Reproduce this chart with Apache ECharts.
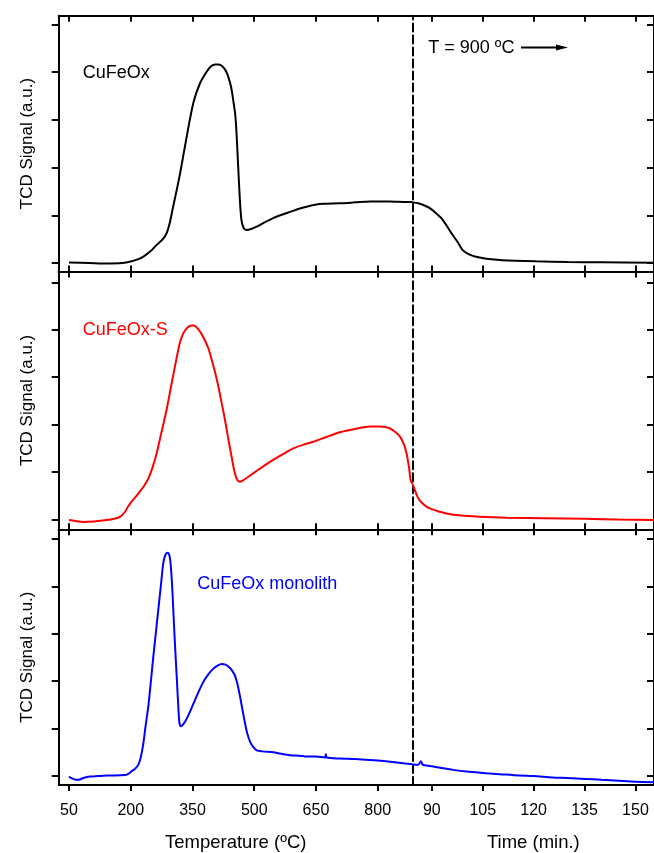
<!DOCTYPE html>
<html>
<head>
<meta charset="utf-8">
<script src="https://cdn.jsdelivr.net/npm/echarts@6/dist/echarts.min.js"></script>
<style>
  html, body { margin: 0; padding: 0; background: #fff; }
  #main { width: 654px; height: 853px; }
</style>
</head>
<body>
<div id="main"></div>
<script>
// tick marks of the two x scales and the y scale
const tempTicks = [50, 200, 350, 500, 650, 800];
const timeTicks = [90, 105, 120, 135, 150];
const signalTicks = [0, 1, 2, 3, 4, 5];

// CuFeOx (black): [temperature ºC, signal] then [time min, signal]
const cuFeOxTemp = [[50,0.01],[100,0.0],[142,-0.01],[180,0.0],[200,0.03],[215,0.07],[230,0.13],[250,0.26],[263,0.38],[278,0.5],[287,0.62],[295,0.85],[303,1.18],[311,1.5],[320,1.88],[336,2.65],[352,3.35],[368,3.76],[384,4.0],[395,4.12],[405,4.16],[414,4.16],[421,4.13],[430,4.04],[437,3.9],[444,3.68],[449,3.41],[454,3.1],[457,2.72],[460,2.2],[463,1.67],[466,1.2],[469,0.9],[474,0.74],[482,0.69],[495,0.72],[506,0.76],[525,0.85],[546,0.94],[567,1.01],[587,1.07],[607,1.13],[627,1.18],[648,1.22],[668,1.24],[708,1.25],[745,1.27],[781,1.29],[830,1.29],[870,1.28],[885,1.28]];
const cuFeOxTime = [[84.4,1.27],[86,1.25],[88,1.2],[89.4,1.15],[91,1.06],[92.8,0.94],[94.3,0.79],[95.8,0.62],[97.5,0.45],[99.1,0.27],[101,0.18],[103,0.13],[106,0.09],[110.8,0.06],[120.6,0.035],[130,0.02],[140,0.015],[155.5,0.005]];

// CuFeOx-S (red)
const cuFeOxSTemp = [[50,-0.01],[65,-0.03],[85,-0.05],[110,-0.04],[142,-0.01],[160,0.02],[174,0.06],[185,0.15],[194,0.28],[202,0.38],[212,0.48],[222,0.59],[233,0.72],[243,0.87],[253,1.1],[263,1.4],[275,1.85],[287,2.31],[300,2.9],[312,3.43],[320,3.75],[328,3.93],[338,4.05],[348,4.09],[354,4.09],[360,4.05],[370,3.94],[380,3.78],[389,3.6],[397,3.36],[405,3.1],[413,2.8],[421,2.45],[429,2.1],[437,1.7],[445,1.33],[451,1.05],[457,0.87],[462,0.81],[466,0.8],[475,0.84],[490,0.93],[510,1.05],[530,1.17],[546,1.26],[570,1.38],[595,1.5],[620,1.58],[644,1.64],[675,1.74],[708,1.84],[745,1.91],[781,1.96],[805,1.96],[818,1.95],[830,1.92],[842,1.85],[854,1.75],[863,1.6],[870,1.4],[876,1.1],[880,0.83],[885,0.75]];
const cuFeOxSTime = [[84.4,0.73],[85,0.62],[86,0.45],[87,0.36],[88.5,0.27],[90,0.22],[92,0.17],[94.3,0.13],[98,0.09],[104,0.06],[112,0.04],[123.5,0.03],[135,0.02],[145,0.0],[155.5,-0.01]];

// CuFeOx monolith (blue)
const monolithTemp = [[50,-0.01],[55,-0.04],[60,-0.06],[67,-0.08],[73,-0.08],[85,-0.04],[101,-0.01],[120,0.0],[141,0.01],[160,0.01],[186,0.02],[195,0.05],[202,0.1],[210,0.15],[218,0.23],[224,0.38],[230,0.65],[236,1.05],[243,1.49],[249,2.0],[255,2.53],[261,3.02],[267,3.51],[273,4.0],[279,4.49],[284,4.66],[289,4.71],[293,4.68],[296,4.55],[300,4.1],[303,3.58],[307,2.85],[312,2.05],[315,1.55],[318,1.14],[321,1.05],[324,1.06],[330,1.12],[336,1.21],[344,1.36],[352,1.52],[364,1.76],[376,1.98],[388,2.14],[400,2.26],[411,2.33],[421,2.36],[430,2.35],[437,2.31],[445,2.24],[453,2.12],[459,1.95],[465,1.7],[471,1.42],[477,1.14],[483,0.9],[490,0.72],[497,0.62],[506,0.54],[520,0.52],[546,0.5],[565,0.47],[587,0.44],[610,0.43],[627,0.41],[650,0.41],[672,0.39],[674,0.46],[676,0.39],[708,0.37],[745,0.36],[781,0.34],[820,0.31],[862,0.27],[885,0.25]];
const monolithTime = [[84.4,0.245],[86,0.24],[86.8,0.31],[87.3,0.24],[88.5,0.22],[92,0.18],[96.2,0.13],[101,0.09],[106,0.06],[110,0.04],[115.7,0.01],[120,0.0],[125.5,-0.03],[130,-0.04],[135.2,-0.06],[140,-0.08],[145,-0.1],[150,-0.12],[155.5,-0.13]];

const FONT = 'Liberation Sans, Arial, sans-serif';
const splitX = 412.7;   // dashed line (T = 900 ºC)
const plotLeft = 58.7;

const panels = [
  { top: 15.7,  height: 255.8, yMin: -0.178, yMax: 5.18,  color: '#000000', temp: cuFeOxTemp,   time: cuFeOxTime },
  { top: 271.5, height: 257.8, yMin: -0.204, yMax: 5.228, color: '#ff0000', temp: cuFeOxSTemp,  time: cuFeOxSTime },
  { top: 529.3, height: 257.4, yMin: -0.189, yMax: 5.203, color: '#0000ff', temp: monolithTemp, time: monolithTime }
];

const axisLine = { show: true, onZero: false, lineStyle: { color: '#000', width: 2 } };
const tickStyle = { color: '#000', width: 2 };

const grid = [], xAxis = [], yAxis = [], series = [];
panels.forEach((p, i) => {
  const last = i === panels.length - 1;
  grid.push({ left: plotLeft, width: splitX - plotLeft, top: p.top, height: p.height });
  grid.push({ left: splitX, width: 656 - splitX, top: p.top, height: p.height });
  const gl = 2 * i, gr = 2 * i + 1;

  // temperature axes (bottom + top)
  xAxis.push({
    type: 'value', gridIndex: gl, position: 'bottom', min: 25, max: 885,
    axisLine, splitLine: { show: false },
    axisTick: { show: true, inside: !last, length: 6, customValues: tempTicks, lineStyle: tickStyle },
    axisLabel: { show: last, customValues: tempTicks, margin: 18, color: '#000', fontSize: 16, fontFamily: FONT },
    name: last ? 'Temperature (ºC)' : '', nameLocation: 'middle', nameGap: 48,
    nameTextStyle: { color: '#000', fontSize: 18.5, fontFamily: FONT }
  });
  xAxis.push({
    type: 'value', gridIndex: gl, position: 'top', min: 25, max: 885,
    axisLine, splitLine: { show: false }, axisLabel: { show: false },
    axisTick: { show: true, inside: true, length: 6, customValues: tempTicks, lineStyle: tickStyle }
  });
  // time axes (bottom + top)
  xAxis.push({
    type: 'value', gridIndex: gr, position: 'bottom', min: 84.36, max: 155.47,
    axisLine, splitLine: { show: false },
    axisTick: { show: true, inside: !last, length: 6, customValues: timeTicks, lineStyle: tickStyle },
    axisLabel: { show: last, customValues: timeTicks, margin: 18, color: '#000', fontSize: 16, fontFamily: FONT },
    name: last ? 'Time (min.)' : '', nameLocation: 'middle', nameGap: 48,
    nameTextStyle: { color: '#000', fontSize: 18.5, fontFamily: FONT }
  });
  xAxis.push({
    type: 'value', gridIndex: gr, position: 'top', min: 84.36, max: 155.47,
    axisLine, splitLine: { show: false }, axisLabel: { show: false },
    axisTick: { show: true, inside: true, length: 6, customValues: timeTicks, lineStyle: tickStyle }
  });

  // left signal axis
  yAxis.push({
    type: 'value', gridIndex: gl, position: 'left', min: p.yMin, max: p.yMax,
    axisLine, splitLine: { show: false }, axisLabel: { show: false },
    axisTick: { show: true, inside: false, length: 7, customValues: signalTicks, lineStyle: tickStyle },
    name: 'TCD Signal (a.u.)', nameLocation: 'middle', nameGap: 23,
    nameTextStyle: { color: '#000', fontSize: 17, fontFamily: FONT }
  });
  // dashed separator at 900 ºC
  yAxis.push({
    type: 'value', gridIndex: gr, position: 'left', min: p.yMin, max: p.yMax,
    axisLine: { show: true, onZero: false, lineStyle: { color: '#000', width: 2, type: [8, 4] } },
    splitLine: { show: false }, axisLabel: { show: false }, axisTick: { show: false }
  });
  // right signal axis
  yAxis.push({
    type: 'value', gridIndex: gr, position: 'right', min: p.yMin, max: p.yMax,
    axisLine, splitLine: { show: false }, axisLabel: { show: false },
    axisTick: { show: true, inside: true, length: 7, customValues: signalTicks, lineStyle: tickStyle }
  });

  const lineStyle = { color: p.color, width: 2 };
  series.push({
    type: 'line', xAxisIndex: 4 * i, yAxisIndex: 3 * i, data: p.temp,
    showSymbol: false, smooth: 0.25, lineStyle, itemStyle: { color: p.color }, animation: false
  });
  series.push({
    type: 'line', xAxisIndex: 4 * i + 2, yAxisIndex: 3 * i + 2, data: p.time,
    showSymbol: false, smooth: 0.25, lineStyle, itemStyle: { color: p.color }, animation: false
  });
});

const chart = echarts.init(document.getElementById('main'));
chart.setOption({
  backgroundColor: '#fff',
  animation: false,
  grid, xAxis, yAxis, series,
  graphic: [
    { type: 'text', left: 82.7, top: 64, style: { text: 'CuFeOx', fill: '#000', font: '18px ' + FONT } },
    { type: 'text', left: 82.7, top: 321, style: { text: 'CuFeOx-S', fill: '#ff0000', font: '18px ' + FONT } },
    { type: 'text', left: 197.3, top: 575, style: { text: 'CuFeOx monolith', fill: '#0000ff', font: '18px ' + FONT } },
    { type: 'text', left: 428.3, top: 39, style: { text: 'T = 900 ºC', fill: '#000', font: '18px ' + FONT } },
    { type: 'line', shape: { x1: 521, y1: 47.5, x2: 562, y2: 47.5 }, style: { stroke: '#000', lineWidth: 2 } },
    { type: 'polygon', shape: { points: [[556, 44.5], [568, 47.5], [556, 50.5]] }, style: { fill: '#000' } }
  ]
});
</script>
</body>
</html>
